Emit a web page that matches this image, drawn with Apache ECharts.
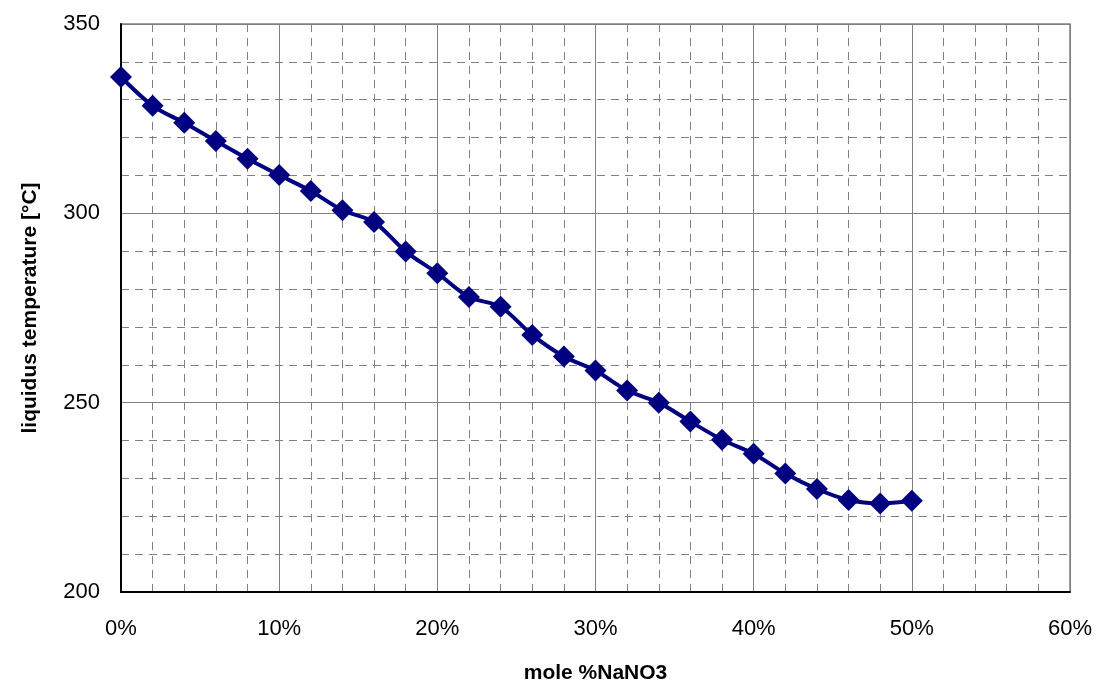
<!DOCTYPE html>
<html>
<head>
<meta charset="utf-8">
<title>Liquidus temperature vs mole % NaNO3</title>
<script src="https://cdn.jsdelivr.net/npm/echarts@6/dist/echarts.min.js"></script>
<style>
  html, body { margin: 0; padding: 0; background: #ffffff; overflow: hidden; }
  #chart { width: 1097px; height: 689px; display: block; }
</style>
</head>
<body>
<div id="chart"></div>
<script>
// Composition, mole % NaNO3
const molePercent = [0, 2, 4, 6, 8, 10, 12, 14, 16, 18, 20, 22, 24, 26, 28, 30, 32, 34, 36, 38, 40, 42, 44, 46, 48, 50];
// Measured liquidus temperature, °C
const liquidusTemp = [336, 328.4, 323.9, 319.1, 314.4, 310.1, 305.9, 300.8, 297.7, 289.9, 284.2, 277.9, 275.3, 267.9, 262.2, 258.5, 253.2, 250, 245, 240.2, 236.5, 231.3, 227.2, 224.3, 223.4, 224.1];

const xAxisTitle = 'mole %NaNO3';
const yAxisTitle = 'liquidus temperature [°C]';

const points = molePercent.map((x, i) => [x, liquidusTemp[i]]);

const FONT = '"Liberation Sans", Arial, sans-serif';
const chart = echarts.init(document.getElementById('chart'), null, { renderer: 'canvas', width: 1097, height: 689 });

chart.setOption({
  backgroundColor: '#ffffff',
  animation: false,
  grid: {
    left: 121, right: 27, top: 24, bottom: 92,
    show: true, borderColor: '#808080', borderWidth: 1.5, backgroundColor: 'transparent'
  },
  xAxis: {
    type: 'value',
    min: 0, max: 60, interval: 10,
    name: xAxisTitle,
    nameLocation: 'middle',
    nameGap: 71,
    nameTextStyle: { fontFamily: FONT, fontSize: 21, fontWeight: 'bold', color: '#000' },
    axisLine: { show: true, onZero: false, lineStyle: { color: '#000', width: 2 } },
    axisTick: { show: false },
    axisLabel: { fontFamily: FONT, fontSize: 22, color: '#000', margin: 26, formatter: '{value}%' },
    splitLine: { show: true, lineStyle: { color: '#808080', width: 1 } },
    minorTick: { show: false, splitNumber: 5 },
    minorSplitLine: { show: true, lineStyle: { color: '#808080', width: 1, type: [8, 6] } }
  },
  yAxis: {
    type: 'value',
    min: 200, max: 350, interval: 50,
    name: yAxisTitle,
    nameLocation: 'middle',
    nameGap: 80,
    nameTextStyle: { fontFamily: FONT, fontSize: 21, fontWeight: 'bold', color: '#000' },
    axisLine: { show: true, onZero: false, lineStyle: { color: '#000', width: 2 } },
    axisTick: { show: false },
    axisLabel: { fontFamily: FONT, fontSize: 22, color: '#000', margin: 21 },
    splitLine: { show: true, lineStyle: { color: '#808080', width: 1 } },
    minorTick: { show: false, splitNumber: 5 },
    minorSplitLine: { show: true, lineStyle: { color: '#808080', width: 1, type: [8, 6] } }
  },
  series: [{
    type: 'line',
    data: points,
    smooth: 0.3,
    symbol: 'diamond',
    symbolSize: 22,
    lineStyle: { color: '#000080', width: 4 },
    itemStyle: { color: '#000080' },
    z: 5
  }]
});
</script>
</body>
</html>
